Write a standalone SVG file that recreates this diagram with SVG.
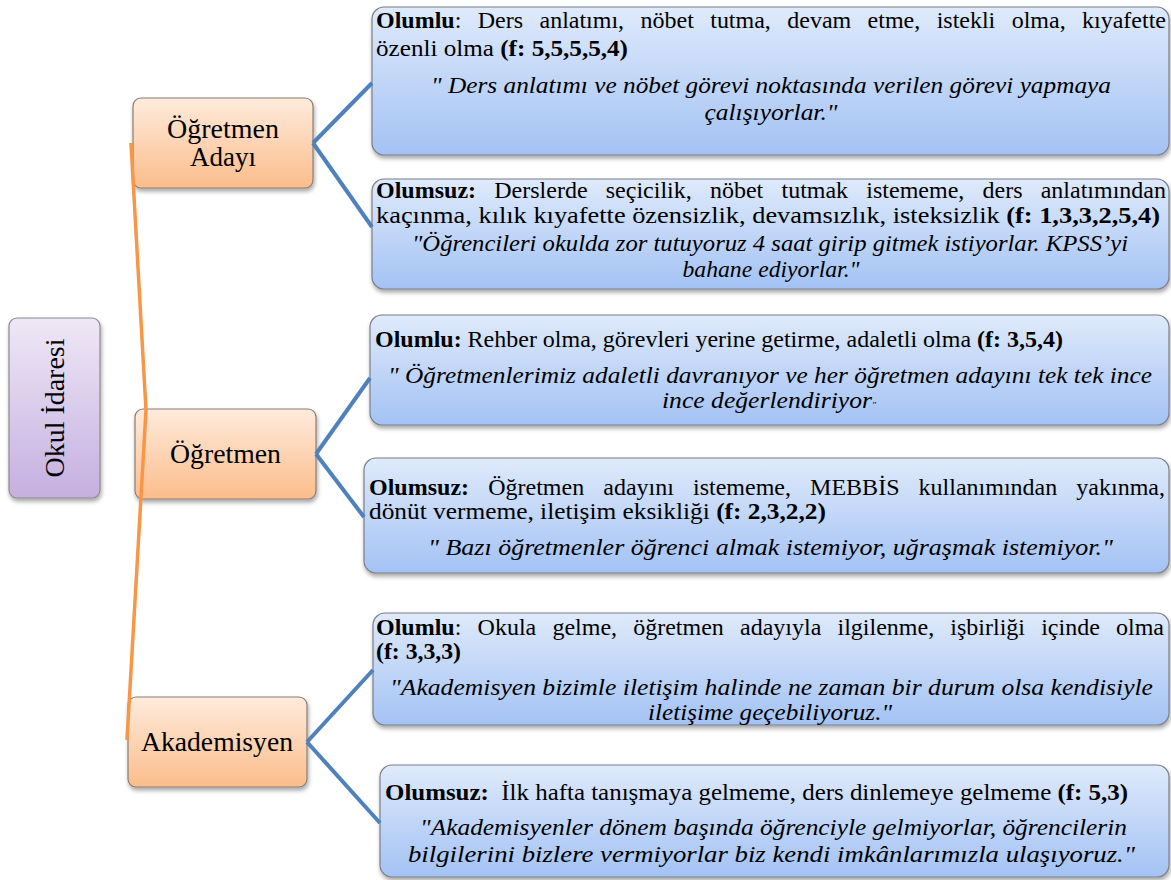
<svg xmlns="http://www.w3.org/2000/svg" width="1171" height="880" viewBox="0 0 1171 880">
<style>
.t{font-family:"Liberation Serif","Times New Roman",serif;font-size:24px;fill:#000}
.b{font-weight:bold}
.q{font-style:italic;text-anchor:middle}
.n{font-family:"Liberation Serif","Times New Roman",serif;font-size:27px;fill:#000;text-anchor:middle}
.blue{fill:url(#gb);stroke:#7a7f88;stroke-width:1.2;filter:url(#sh)}
.orng{fill:url(#go);stroke:#8c7c72;stroke-width:1.2;filter:url(#sh)}
.purp{fill:url(#gp);stroke:#8a8a8a;stroke-width:1.2;filter:url(#sh)}
.cb{stroke:#4f81bd;stroke-width:4;fill:none}
.co{stroke:#f79646;stroke-width:3.5;fill:none}
</style>
<defs>
<linearGradient id="gb" x1="0" y1="0" x2="0" y2="1"><stop offset="0" stop-color="#dfeafb"/><stop offset="1" stop-color="#a3c2f4"/></linearGradient>
<linearGradient id="go" x1="0" y1="0" x2="0" y2="1"><stop offset="0" stop-color="#feebdc"/><stop offset="1" stop-color="#fbbd8b"/></linearGradient>
<linearGradient id="gp" x1="0" y1="0" x2="0" y2="1"><stop offset="0" stop-color="#eee8f6"/><stop offset="1" stop-color="#c5afe0"/></linearGradient>
<filter id="sh" x="-10%" y="-10%" width="120%" height="130%"><feDropShadow dx="1" dy="3" stdDeviation="2" flood-color="#000" flood-opacity="0.35"/></filter>
</defs>

<g id="root">
<rect class="purp" x="9" y="318" width="91" height="180" rx="8"/>
<text class="n" transform="translate(64,408) rotate(-90)" textLength="139" lengthAdjust="spacingAndGlyphs">Okul İdaresi</text>
</g>

<g id="ogretmen-adayi">
<rect class="orng" x="133" y="98" width="180" height="90" rx="8"/>
<text class="n" x="223" y="138" textLength="112" lengthAdjust="spacingAndGlyphs">Öğretmen</text>
<text class="n" x="223" y="166">Adayı</text>
</g>

<g id="ogretmen">
<rect class="orng" x="135" y="409" width="181" height="90" rx="8"/>
<text class="n" x="225.5" y="463" textLength="111" lengthAdjust="spacingAndGlyphs">Öğretmen</text>
</g>

<g id="akademisyen">
<rect class="orng" x="128" y="697" width="179" height="90" rx="8"/>
<text class="n" x="217" y="751" textLength="152" lengthAdjust="spacingAndGlyphs">Akademisyen</text>
</g>

<g id="oa-olumlu">
<rect class="blue" x="372" y="7" width="797" height="148" rx="12"/>
<text class="t" x="376" y="28" word-spacing="10.4" textLength="790" lengthAdjust="spacing"><tspan class="b">Olumlu</tspan>: Ders anlatımı, nöbet tutma, devam etme, istekli olma, kıyafette</text>
<text class="t" x="376" y="56" textLength="252" lengthAdjust="spacingAndGlyphs">özenli olma <tspan class="b">(f: 5,5,5,5,4)</tspan></text>
<text class="t q" x="771" y="93" textLength="680" lengthAdjust="spacingAndGlyphs">" Ders anlatımı ve nöbet görevi noktasında verilen görevi yapmaya</text>
<text class="t q" x="771" y="120" textLength="133" lengthAdjust="spacingAndGlyphs">çalışıyorlar."</text>
</g>

<g id="oa-olumsuz">
<rect class="blue" x="372" y="179" width="797" height="110" rx="12"/>
<text class="t" x="376" y="198" word-spacing="12.2" textLength="790" lengthAdjust="spacing"><tspan class="b">Olumsuz:</tspan> Derslerde seçicilik, nöbet tutmak istememe, ders anlatımından</text>
<text class="t" x="376" y="223" textLength="784" lengthAdjust="spacingAndGlyphs">kaçınma, kılık kıyafette özensizlik, devamsızlık, isteksizlik <tspan class="b">(f: 1,3,3,2,5,4)</tspan></text>
<text class="t q" x="770" y="251" textLength="716" lengthAdjust="spacingAndGlyphs">"Öğrencileri okulda zor tutuyoruz 4 saat girip gitmek istiyorlar. KPSS’yi</text>
<text class="t q" x="771" y="277" textLength="177" lengthAdjust="spacingAndGlyphs">bahane ediyorlar."</text>
</g>

<g id="o-olumlu">
<rect class="blue" x="370" y="315" width="799" height="110" rx="12"/>
<text class="t" x="375" y="347" textLength="688" lengthAdjust="spacingAndGlyphs"><tspan class="b">Olumlu:</tspan> Rehber olma, görevleri yerine getirme, adaletli olma <tspan class="b">(f: 3,5,4)</tspan></text>
<text class="t q" x="770" y="383" textLength="764" lengthAdjust="spacingAndGlyphs">" Öğretmenlerimiz adaletli davranıyor ve her öğretmen adayını tek tek ince</text>
<text class="t q" x="769" y="408" textLength="214" lengthAdjust="spacingAndGlyphs">ince değerlendiriyor<tspan font-size="9">"</tspan></text>
</g>

<g id="o-olumsuz">
<rect class="blue" x="364" y="458" width="805" height="115" rx="12"/>
<text class="t" x="369" y="495" word-spacing="13.1" textLength="796" lengthAdjust="spacing"><tspan class="b">Olumsuz:</tspan> Öğretmen adayını istememe, MEBBİS kullanımından yakınma,</text>
<text class="t" x="369" y="519" textLength="457" lengthAdjust="spacingAndGlyphs">dönüt vermeme, iletişim eksikliği <tspan class="b">(f: 2,3,2,2)</tspan></text>
<text class="t q" x="770.5" y="555" textLength="685" lengthAdjust="spacingAndGlyphs">" Bazı öğretmenler öğrenci almak istemiyor, uğraşmak istemiyor."</text>
</g>

<g id="a-olumlu">
<rect class="blue" x="373" y="613" width="796" height="112" rx="12"/>
<text class="t" x="376" y="635" word-spacing="10.2" textLength="788" lengthAdjust="spacing"><tspan class="b">Olumlu</tspan>: Okula gelme, öğretmen adayıyla ilgilenme, işbirliği içinde olma</text>
<text class="t b" x="376" y="659" textLength="85" lengthAdjust="spacingAndGlyphs">(f: 3,3,3)</text>
<text class="t q" x="771.5" y="695" textLength="763" lengthAdjust="spacingAndGlyphs">"Akademisyen bizimle iletişim halinde ne zaman bir durum olsa kendisiyle</text>
<text class="t q" x="770" y="720" textLength="244" lengthAdjust="spacingAndGlyphs">iletişime geçebiliyoruz."</text>
</g>

<g id="a-olumsuz">
<rect class="blue" x="380" y="765" width="789" height="112" rx="12"/>
<text class="t" x="385" y="800" textLength="743" lengthAdjust="spacingAndGlyphs"><tspan class="b">Olumsuz:</tspan><tspan dx="6"> İlk hafta tanışmaya gelmeme, ders dinlemeye gelmeme </tspan><tspan class="b">(f: 5,3)</tspan></text>
<text class="t q" x="773.5" y="835" textLength="707" lengthAdjust="spacingAndGlyphs">"Akademisyenler dönem başında öğrenciyle gelmiyorlar, öğrencilerin</text>
<text class="t q" x="771.5" y="862" textLength="727" lengthAdjust="spacingAndGlyphs">bilgilerini bizlere vermiyorlar biz kendi imkânlarımızla ulaşıyoruz."</text>
</g>

<g id="connectors">
<polyline class="co" points="131,143 146,410 127,740"/>
<line class="cb" x1="313" y1="143" x2="372" y2="83"/>
<line class="cb" x1="313" y1="143" x2="372" y2="227"/>
<line class="cb" x1="316" y1="454" x2="370" y2="378"/>
<line class="cb" x1="316" y1="454" x2="364" y2="517"/>
<line class="cb" x1="307" y1="742" x2="373" y2="670"/>
<line class="cb" x1="307" y1="742" x2="380" y2="823"/>
</g>
</svg>
